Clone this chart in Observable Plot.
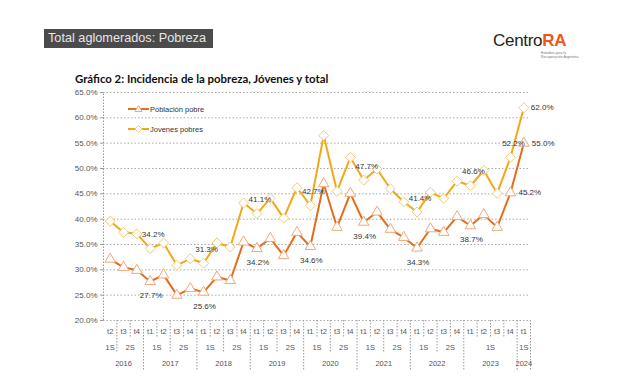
<!DOCTYPE html>
<html><head><meta charset="utf-8">
<script src="https://cdn.jsdelivr.net/npm/d3@7"></script>
<script src="https://cdn.jsdelivr.net/npm/@observablehq/plot@0.6"></script>
<style>
body{margin:0;background:#fff;width:637px;height:385px;overflow:hidden;position:relative;font-family:"Liberation Sans",Arial,sans-serif}
#chart{position:absolute;left:0;top:0}
#hdr{position:absolute;left:44px;top:29px;height:19px;width:169px;background:#4b4b4b;color:#e6e6e6;font-size:12.7px;line-height:19px;padding-left:4px;box-sizing:border-box;white-space:nowrap}
#logo{position:absolute;left:493px;top:31px;font-family:"Liberation Sans",Arial,sans-serif;font-size:17px;color:#222;letter-spacing:-0.3px;white-space:nowrap}
#logo b{color:#f0561a}
#logosub{position:absolute;left:541px;top:51px;font-size:3.5px;line-height:4px;color:#777;white-space:nowrap}
#title{position:absolute;left:75px;top:72px;font-family:Lato,"Open Sans",sans-serif;font-weight:bold;font-size:11.4px;color:#111;white-space:nowrap}
.leg{position:absolute;left:128px;font-size:7.5px;color:#333;display:flex;align-items:center;white-space:nowrap}
.leg svg{margin-right:1px}
</style>
</head><body>
<div id="hdr">Total aglomerados: Pobreza</div>
<div id="logo">Centro<b>RA</b></div>
<div id="logosub">Estudios para la<br>Recuperación Argentina</div>
<div id="title">Gráfico 2: Incidencia de la pobreza, Jóvenes y total</div>
<div id="chart"></div>
<div class="leg" style="top:104px"><svg width="21" height="10"><line x1="0" y1="5" x2="21" y2="5" stroke="#e46c1c" stroke-width="2"/><path d="M10.5,1.5 L14,7.5 L7,7.5 Z" fill="#fff" stroke="#f2a77a" stroke-width="1"/></svg>Población pobre</div>
<div class="leg" style="top:124px"><svg width="21" height="10"><line x1="0" y1="5" x2="21" y2="5" stroke="#f2a818" stroke-width="2"/><path d="M10.5,1.5 L14,5 L10.5,8.5 L7,5 Z" fill="#fff" stroke="#f2cf7a" stroke-width="1"/></svg>Jovenes pobres</div>
<script>
const quarters = ["t2","t3","t4",
  "t1","t2","t3","t4",
  "t1","t2","t3","t4",
  "t1","t2","t3","t4",
  "t1","t2","t3","t4",
  "t1","t2","t3","t4",
  "t1","t2","t3","t4",
  "t1","t2","t3","t4",
  "t1"];
const years = [2016,2016,2016,
  2017,2017,2017,2017,
  2018,2018,2018,2018,
  2019,2019,2019,2019,
  2020,2020,2020,2020,
  2021,2021,2021,2021,
  2022,2022,2022,2022,
  2023,2023,2023,2023,
  2024];
const semesters = ["1S","2S","2S",
  "1S","1S","2S","2S",
  "1S","1S","2S","2S",
  "1S","1S","2S","2S",
  "1S","1S","2S","2S",
  "1S","1S","2S","2S",
  "1S","1S","2S","2S",
  "1S","1S","1S","1S",
  "1S"];
const poblacionPobre = [32.1,30.5,29.9,27.7,29.0,25.0,26.3,25.6,28.6,27.9,35.5,34.2,36.2,32.8,37.4,34.6,47.0,38.4,45.1,39.4,41.4,38.0,36.4,34.3,38.1,37.4,40.5,38.7,40.9,38.4,45.2,55.0];
const jovenesPobres = [39.6,37.4,37.1,34.2,35.3,30.9,32.2,31.3,35.3,34.5,43.2,41.1,44.1,40.2,46.2,42.7,56.5,45.5,52.2,47.7,49.9,46.0,43.4,41.4,45.3,44.1,47.5,46.6,49.6,45.1,52.2,62.0];
const labeledPoints = [3,7,11,15,19,23,27,30,31];
const yTicks = [20,25,30,35,40,45,50,55,60,65];

const n = quarters.length;
const idx = d3.range(n);
const fmt = v => v.toFixed(1) + "%";

const bounds = d3.range(n + 1).map(i => {
  let level;
  if (i === 0 || i === n || years[i] !== years[i-1]) level = 3;
  else if (semesters[i] !== semesters[i-1]) level = 2;
  else level = 1;
  return {x: i - 0.5, level};
});
const bottomFor = {1: 16.45, 2: 13.5, 3: 10.2};

const semGroups = [];
idx.forEach(i => {
  const last = semGroups[semGroups.length-1];
  if (last && last.year === years[i] && last.sem === semesters[i]) last.end = i;
  else semGroups.push({year: years[i], sem: semesters[i], start: i, end: i});
});
const yearGroups = [];
idx.forEach(i => {
  const last = yearGroups[yearGroups.length-1];
  if (last && last.year === years[i]) last.end = i;
  else yearGroups.push({year: years[i], start: i, end: i});
});

const jLab = labeledPoints.filter(i => i !== n-1);
const pLab = labeledPoints.filter(i => i < n-2);
const pRight = labeledPoints.filter(i => i >= n-2);

const chart = Plot.plot({
  width: 637, height: 385,
  marginLeft: 103, marginRight: 107, marginTop: 92, marginBottom: 65,
  x: {domain: [-0.5, n - 0.5], axis: null},
  y: {domain: [20, 65], axis: null},
  style: {fontFamily: "'Liberation Sans', Arial, sans-serif", fontSize: "8px", background: "transparent"},
  marks: [
    Plot.gridY(yTicks, {stroke: "#aaa", strokeOpacity: 1, strokeDasharray: "1.5,2"}),
    Plot.axisY(yTicks, {tickFormat: fmt, tickSize: 3, tickPadding: 3, fontSize: 8, fill: "#555", stroke: "#999"}),
    Plot.ruleX(bounds, {x: "x", y1: 20, y2: d => d.x < 0 ? 65 : bottomFor[d.level], stroke: "#999", strokeDasharray: "1.5,1.5"}),
    Plot.text(idx, {x: i => i, y: 20, dy: 11, text: i => quarters[i], fill: "#555", fontSize: 7.5}),
    Plot.text(semGroups, {x: d => (d.start + d.end) / 2, y: 20, dy: 27, text: "sem", fill: "#555", fontSize: 7.5}),
    Plot.text(yearGroups, {x: d => (d.start + d.end) / 2, y: 20, dy: 43, text: d => String(d.year), fill: "#555", fontSize: 7.5}),
    Plot.line(idx, {x: i => i, y: i => jovenesPobres[i], stroke: "#f2a818", strokeWidth: 2}),
    Plot.line(idx, {x: i => i, y: i => poblacionPobre[i], stroke: "#e46c1c", strokeWidth: 2}),
    Plot.dot(idx, {x: i => i, y: i => jovenesPobres[i], symbol: "diamond2", r: 4.5, fill: "white", stroke: "#f0cb78", strokeWidth: 1}),
    Plot.dot(idx, {x: i => i, y: i => poblacionPobre[i], symbol: "triangle2", r: 5, fill: "white", stroke: "#f2a77a", strokeWidth: 1}),
    Plot.text(jLab, {x: i => i, y: i => jovenesPobres[i], text: i => fmt(jovenesPobres[i]), dy: -14, dx: 3, fill: "#333", fontSize: 8}),
    Plot.text([n-1], {x: i => i, y: i => jovenesPobres[i], text: i => fmt(jovenesPobres[i]), dx: 7, textAnchor: "start", fill: "#333", fontSize: 8}),
    Plot.text(pLab, {x: i => i, y: i => poblacionPobre[i], text: i => fmt(poblacionPobre[i]), dy: 14, dx: 1, fill: "#333", fontSize: 8}),
    Plot.text(pRight, {x: i => i, y: i => poblacionPobre[i], text: i => fmt(poblacionPobre[i]), dx: 8, textAnchor: "start", fill: "#333", fontSize: 8})
  ]
});
document.getElementById("chart").appendChild(chart);
</script>
</body></html>
